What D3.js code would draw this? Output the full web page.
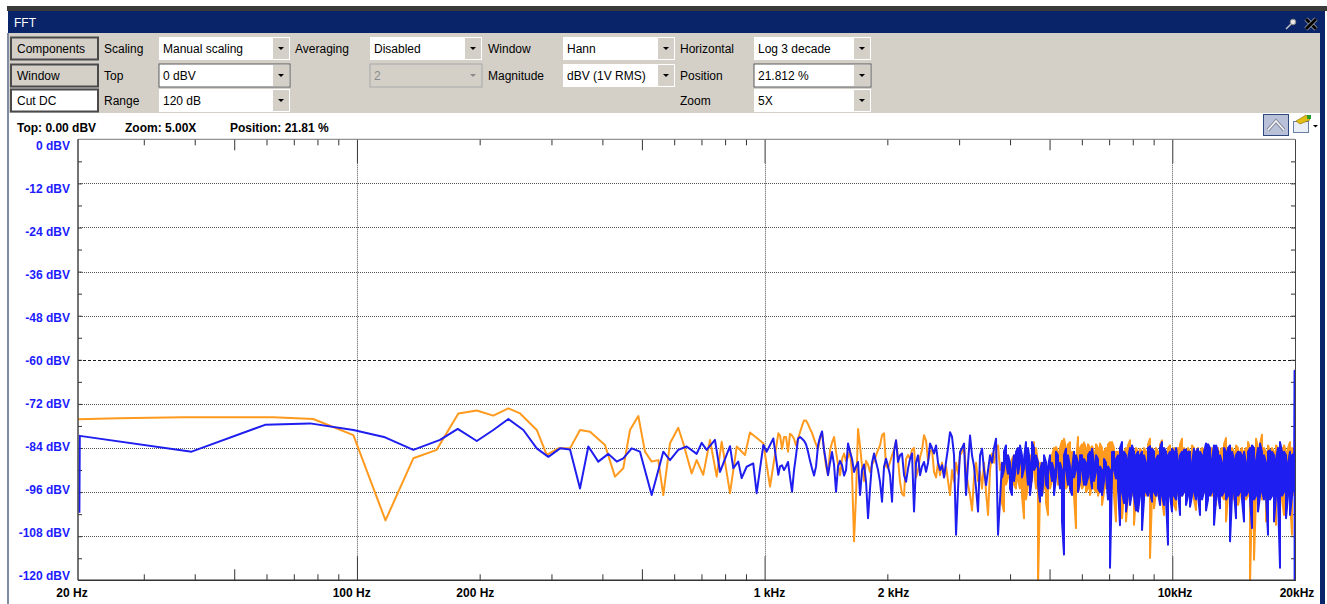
<!DOCTYPE html>
<html><head><meta charset="utf-8">
<script src="https://cdn.jsdelivr.net/npm/d3@7"></script>
<style>
body{margin:0;background:#fff;overflow:hidden;}
svg{display:block;font-family:"Liberation Sans",Arial,sans-serif;}
</style></head>
<body><svg id="c" width="1327" height="604"></svg>
<script>
// ---------------- DATA ----------------
const dbTicks = [0,-12,-24,-36,-48,-60,-72,-84,-96,-108,-120];
const dbTickLabels = ["0 dBV","-12 dBV","-24 dBV","-36 dBV","-48 dBV","-60 dBV","-72 dBV","-84 dBV","-96 dBV","-108 dBV","-120 dBV"];
const freqLabelHz = [20,100,200,1000,2000,10000,20000];
const freqLabels = ["20 Hz","100 Hz","200 Hz","1 kHz","2 kHz","10kHz","20kHz"];

// resolved low-frequency FFT points (Hz, dBV)
const orangeLowHz = [20,26.0,37.5,62.3,78.1,98.0,117.5,137.5,156.9,177.3,196.8,216,235.2,251.3,276.1,292.1,311.9,333.2,352.5,373.1,405.9,429.5,450.1,467.5,490,508.8,528.4,548.6,564.2,586,614,631.6,662.3,681.3,707,734.5,762.8,784.8,822.4,854.2,895,920.5,992.7,1031,1080.5];
const orangeLowDb = [-76.2,-75.9,-75.6,-75.6,-76.1,-80.5,-103.7,-86.8,-84.5,-74.6,-73.8,-75.2,-73.2,-74.6,-79.1,-85.9,-84.1,-84.1,-79.1,-79.6,-83.2,-91.8,-89.5,-79.1,-75.3,-85.0,-87.7,-87.3,-96.8,-82.7,-78.5,-82.7,-90.9,-87.3,-91.3,-81.8,-91.8,-82.3,-96.3,-83.6,-85.9,-79.8,-82.7,-94.5,-80.0];
const blueLowHz = [20.85,20.9,39.3,59.5,76.7,98.0,117.2,137.5,159.9,176.7,196.8,216,235.2,256,276.1,294.8,314.9,333.2,352.5,369.5,390.8,413.6,433.7,450.1,472,494.6,528.4,564.2,586,614,643.9,681.3,700.8,720.9,755.4,777.3,822.4,837.9,861.9,878.4,903.6,937.9,956,992.7,1011.9,1050.4,1080.5];
const blueLowDb = [-101.6,-80.7,-85.0,-77.7,-77.3,-79.1,-81.1,-84.5,-81.8,-78.8,-82.1,-79.1,-76.1,-79.1,-84.1,-86.4,-84.1,-84.4,-95.0,-83.6,-87.7,-85.6,-87.7,-86.8,-84.1,-85.0,-96.8,-85.0,-87.3,-84.5,-83.6,-85.6,-82.6,-84.5,-81.8,-90.5,-83.5,-89.5,-87.7,-92.2,-89.1,-88.2,-96.3,-83.2,-85.0,-81.4,-91.3];

// 1.09 kHz - 3.78 kHz: one reading per 2 screen px (log grid)
const midStartHz = 1091, midEndHz = 3780;
const orangeMidDb = [
-80.6,-84.2,-81,-81,-85,-80.1,-80.6,-81.5,-83.3,-81.5,
-79.7,-78,-76.5,-76.5,-77.5,-78.8,-79.9,-81.5,-83,-84.2,
-81.5,-79.7,-84.5,-89,-91.4,-84.6,-82.5,-81,-85,-88.5,
-91.4,-87,-85.5,-87.5,-86.5,-84.6,-91,-109.4,-96.8,-78.8,
-83.5,-89,-93,-87.5,-88.5,-90.5,-88.5,-87.5,-86,-84.5,
-83.3,-80.5,-80,-89,-89.5,-87.8,-86,-84.5,-82,-87,
-93.2,-96.5,-97,-87,-85.9,-86.9,-84.5,-84,-92,-90,
-86.5,-84.5,-80.5,-82,-87.5,-85,-84.5,-90.5,-92,-88,
-91.4,-88,-92,-89,-93,-96.8,-90,-93.2,-88,-91,
-86,-85.1,-83.3,-90,-94,-96.8,-101,-92,-88,-93,
-90.5,-95,-88,-96,-102.2,-90,-85.5,-88,-84.5,-83.3,
-90];
const blueMidDb = [
-89,-88.7,-90,-89,-87.8,-92,-95.9,-90,-86,-81.5,
-81,-81.5,-82,-83,-85,-87.5,-89.6,-91.5,-89,-83.3,
-81,-79.5,-84.5,-87.8,-91.4,-88,-85.1,-88.5,-95.9,-89,
-87.5,-88.7,-91.5,-90,-82.8,-85,-87,-90.5,-89,-87.8,
-96.8,-90,-88.5,-93.2,-103.1,-95,-88,-85.5,-87.8,-90,
-93.2,-98.6,-89.1,-86.9,-89,-91.4,-98.6,-85,-81.9,-87.8,
-86,-85.5,-91.4,-93.2,-89.6,-87,-85.5,-101.3,-88,-86,
-91.4,-89,-87.8,-90.5,-88,-82.8,-84,-85.5,-83.3,-88,
-90,-88.7,-92,-87.8,-84,-79.7,-81,-86,-107.6,-95,
-85.1,-84,-82.8,-96.8,-88,-80.6,-86,-89,-95,-101.3,
-86,-84.2,-90,-94.1,-90,-86,-88,-84,-81.5,-107.6,
-98];

// 3.82 kHz - 19.9 kHz: per 2-px column, the top and bottom of the trace
const hiStartHz = 3822, hiEndHz = 19890;
const blueHi = [
-88,-85,-83.3,-86,-88,-90,-86,-85.1,-84,-83.3,
-86,-87,-82.4,-84,-88,-82.4,-84,-86,-87.8,-90,
-88,-86,-87.8,-89,-86,-88,-90,-85,-86,-88,
-90,-86,-84.2,-86,-89,-90,-85,-86,-88,-86,
-86,-87,-88,-86,-85,-84.2,-88,-86,-87,-89,
-90,-87,-88,-89,-90,-85.1,-85,-87,-86,-84,
-82.4,-85,-86,-87,-84,-83.3,-85,-86,-85,-86,
-85,-86,-88,-84,-83.5,-84.2,-85,-87,-86,-84,
-82.4,-84,-85,-86,-85,-84.2,-85,-84,-87.5,-86,
-85,-84.5,-84.5,-85,-85,-88,-84.2,-85,-84.2,-85,
-86,-85,-82.8,-83,-84,-87,-83.3,-83.3,-85,-86,
-88,-84,-85,-84,-83.3,-85,-87,-86,-85,-85.1,
-86,-85,-88,-85,-84,-83.3,-84,-87.5,-84,-82.8,
-85,-86,-88,-85,-84.6,-85,-86,-87,-84,-82.4,
-85,-85,-86,-88,-85,-86,-85.5];
const blueLo = [
-92,-90,-88,-91,-95,-96.8,-93,-89,-91,-88,
-92,-89.6,-88,-94,-96.8,-92,-90,-89,-94,-98.6,
-97,-91,-94,-95,-89.6,-93,-96.8,-92,-89,-95,
-104,-113,-90,-94,-95,-96.8,-92,-90,-96,-93,
-90,-94,-94.1,-92,-91,-95,-93,-90.5,-95,-96,
-96.8,-93,-91.4,-98,-116.6,-92,-90,-92.3,-95,-105,
-96,-99,-101.3,-97,-99.5,-96,-97,-101,-101.3,-97,
-106.3,-98,-96,-97,-96,-98.6,-96,-97,-96,-99.5,
-97,-99.5,-98,-110.3,-97,-101.3,-97,-98,-96,-102.2,
-97,-96,-99.5,-97,-100,-97,-96,-98,-97,-102.2,
-98,-96,-101,-98,-97,-96,-104.9,-98,-97,-100.4,
-97,-96,-98,-97,-109.4,-97,-96,-103.1,-97,-96,
-98,-104,-97,-96,-98,-105.8,-98,-97,-101.3,-97,
-96,-98,-97,-107.6,-98,-97,-104,-97,-98,-116.6,
-97,-96,-103.1,-97,-102.2,-97,-96];
const orangeHi = [
-88,-90,-87,-86,-88,-87,-86,-88,-87,-86,
-88,-90,-88,-86,-86,-84,-82.4,-84,-88,-88,
-89,-88,-90,-92,-88,-86,-84,-83.7,-85,-84,
-82,-81.5,-84,-83,-82.4,-85,-86,-88,-81,-84,
-83,-82.5,-84,-83,-84,-83.5,-85,-83,-84,-82.8,
-84,-85,-84,-83,-82.4,-82.4,-84,-85,-85,-84,
-86,-85,-84,-83.3,-81.9,-84,-85,-84,-85,-84.2,
-85,-84,-85,-83,-81.5,-84,-85,-84,-85,-83,
-81.9,-84,-85,-84,-83.3,-85,-84,-85,-84,-83,
-81.5,-84,-85,-84,-85,-83.3,-84,-85,-84,-85,
-84,-84.2,-85,-84,-85,-84,-85,-85.1,-84,-85,
-84,-83,-81.3,-84,-85,-84,-85,-83.3,-84,-85,
-84,-85,-84,-82.4,-84,-85,-84,-81.5,-84,-83,
-80.4,-84,-85,-83.3,-85,-84,-85,-83.3,-84,-85,
-84,-83.3,-85,-84,-82.4,-84,-85];
const orangeLo = [
-99,-101.3,-94,-92,-93,-91.4,-94,-95,-93,-95,
-97,-103.1,-98,-94,-92,-93,-90,-95,-122,-96,
-96.8,-95,-99,-102.2,-95,-93,-92,-91,-94,-93,
-95,-94,-95,-94,-96,-95,-97,-105.8,-96,-94,
-95,-94,-96,-95,-96.8,-94,-95,-96,-97,-95,
-99.5,-96,-95,-94,-96,-95,-97,-104,-96,-97,
-103.1,-96.8,-104,-97,-96,-97,-104.9,-97,-96,-97,
-96,-98,-97,-96,-113.9,-97,-100.4,-96,-97,-96,
-98,-102.2,-97,-96,-97,-98,-99.5,-100.9,-97,-96,
-97,-96,-98,-96.8,-97,-96,-98,-100.9,-97,-96,
-97,-96,-98.6,-97,-96,-97,-98,-99.5,-97,-96,
-97,-98,-104,-97,-96,-97,-98,-97,-99.5,-97,
-96,-97,-98,-97,-121,-97,-114.4,-97,-96,-97,
-98,-97,-104,-97,-96,-97,-98,-104.9,-97,-96,
-98,-102.2,-97,-96,-98,-107.6,-97];
const blueTailHz = [19950,19960];
const blueTailDb = [-63,-125];

// toolbar texts
const rowLabels = [["Scaling","Top","Range"],["Averaging"],["Window","Magnitude"],["Horizontal","Position","Zoom"]];

// ---------------- DRAW ----------------
const W=1327,H=604;
const svg=d3.select("#c");
svg.append("rect").attr("width",W).attr("height",H).attr("fill","#fff");

// window chrome
svg.append("rect").attr("x",7).attr("y",6).attr("width",W-7).attr("height",5).attr("fill","#3a3a3a");
svg.append("rect").attr("x",8).attr("y",11).attr("width",1317).attr("height",22).attr("fill","#0a246a");
svg.append("text").attr("x",14).attr("y",27).attr("fill","#fff").attr("font-size",12).text("FFT");
svg.append("line").attr("x1",1286).attr("y1",29).attr("x2",1291).attr("y2",24).attr("stroke","#c8c8c8").attr("stroke-width",1.5);
svg.append("circle").attr("cx",1293).attr("cy",22).attr("r",2.8).attr("fill","#e8e8e8").attr("stroke","#888");
[[1306,19,1316,29],[1316,19,1306,29]].forEach(l=>{
  svg.append("line").attr("x1",l[0]).attr("y1",l[1]).attr("x2",l[2]).attr("y2",l[3]).attr("stroke","#b8b8b8").attr("stroke-width",4.2);
  svg.append("line").attr("x1",l[0]).attr("y1",l[1]).attr("x2",l[2]).attr("y2",l[3]).attr("stroke","#000").attr("stroke-width",3);
});
svg.append("rect").attr("x",9).attr("y",33).attr("width",1311).attr("height",80).attr("fill","#d4d0c8");
svg.append("rect").attr("x",7).attr("y",33).attr("width",2).attr("height",H-33).attr("fill","#7f8aa3");
svg.append("rect").attr("x",1320).attr("y",11).attr("width",5).attr("height",H-11).attr("fill","#0a246a");

const rowY=[37,64,89], rowH=23;
function button(y,label,fill){
  svg.append("rect").attr("x",11).attr("y",y+0.5).attr("width",87).attr("height",rowH-1).attr("fill",fill).attr("stroke","#4a4a4a").attr("stroke-width",2);
  svg.append("text").attr("x",17).attr("y",y+16).attr("font-size",12).attr("fill","#000").text(label);
}
button(rowY[0],"Components","#d4d0c8");
button(rowY[1],"Window","#d4d0c8");
button(rowY[2],"Cut DC","#fff");

function dropdown(x,y,w,text,style){
  const g=svg.append("g");
  const dis = style==="disabled";
  g.append("rect").attr("x",x).attr("y",y).attr("width",w).attr("height",rowH)
    .attr("fill",dis?"#d4d0c8":"#fff")
    .attr("stroke",style==="sunk"?"#5a5a5a":(dis?"#a8a8a8":"none")).attr("stroke-width",1);
  g.append("rect").attr("x",x+w-17).attr("y",y+1).attr("width",16).attr("height",rowH-2).attr("fill","#d4d0c8");
  const cx=x+w-9, cy=y+rowH/2;
  g.append("path").attr("d",`M${cx-3},${cy-1.5}L${cx+3},${cy-1.5}L${cx},${cy+1.5}Z`).attr("fill",dis?"#8a8a8a":"#000");
  g.append("text").attr("x",x+4).attr("y",y+16).attr("font-size",12).attr("fill",dis?"#8a8a8a":"#000").text(text);
}
const labelX=[104,295,488,680];
rowLabels.forEach((col,ci)=>col.forEach((t,ri)=>{
  svg.append("text").attr("x",labelX[ci]).attr("y",rowY[ri]+16).attr("font-size",12).attr("fill","#000").text(t);
}));
dropdown(159,rowY[0],131,"Manual scaling","flat");
dropdown(159,rowY[1],131,"0 dBV","sunk");
dropdown(159,rowY[2],131,"120 dB","flat");
dropdown(370,rowY[0],112,"Disabled","flat");
dropdown(370,rowY[1],112,"2","disabled");
dropdown(563,rowY[0],112,"Hann","flat");
dropdown(563,rowY[1],112,"dBV (1V RMS)","flat");
dropdown(754,rowY[0],117,"Log 3 decade","flat");
dropdown(754,rowY[1],117,"21.812 %","sunk");
dropdown(754,rowY[2],117,"5X","flat");

[["Top: 0.00 dBV",17],["Zoom: 5.00X",125],["Position: 21.81 %",230]].forEach(d=>{
  svg.append("text").attr("x",d[1]).attr("y",132).attr("font-size",12).attr("font-weight","bold").text(d[0]);
});
svg.append("rect").attr("x",1263.5).attr("y",114.5).attr("width",25).attr("height",21).attr("fill","#b9c1d9").attr("stroke","#2f4a7f");
svg.append("polyline").attr("points","1268,130 1276,121 1284,130").attr("fill","none").attr("stroke","#7d8597").attr("stroke-width",3.4);
svg.append("polyline").attr("points","1268,130 1276,121 1284,130").attr("fill","none").attr("stroke","#f6f6f6").attr("stroke-width",1.6);
svg.append("rect").attr("x",1293.5).attr("y",121.5).attr("width",15).attr("height",11).attr("fill","#e9eef7").attr("stroke","#6a7fa8");
svg.append("path").attr("d","M1296,121L1306,115L1310,120L1300,124Z").attr("fill","#e2bd12").attr("stroke","#8a6d00").attr("stroke-width",0.6);
svg.append("rect").attr("x",1307).attr("y",115).attr("width",4).attr("height",4).attr("fill","#2a9c2a");
svg.append("path").attr("d","M1313,125L1318,125L1315.5,127.5Z").attr("fill","#000");

// ---------------- PLOT ----------------
const L=78, R=1295, T=139.3, B=580.3;
const x=d3.scaleLog().domain([20,20000]).range([72,1295]);
const y=d3.scaleLinear().domain([0,-120]).range([T,B]);
const yLab=d3.scaleLinear().domain([0,-120]).range([145.7,575]);
const xLabCenters=[72,351.7,475.3,769.5,893.5,1175,1297];

dbTicks.filter(v=>v<0&&v>-120).forEach(v=>{
  svg.append("line").attr("x1",L).attr("x2",R).attr("y1",Math.round(y(v))+0.5).attr("y2",Math.round(y(v))+0.5)
    .attr("stroke",v===-60?"#1a1a1a":"#555").attr("stroke-dasharray",v===-60?"3,2":"1,1");
});
const decades=[100,1000,10000];
decades.forEach(f=>{
  svg.append("line").attr("x1",Math.round(x(f))+0.5).attr("x2",Math.round(x(f))+0.5).attr("y1",T+24).attr("y2",B-24)
    .attr("stroke","#555").attr("stroke-dasharray","1,1");
});

const minorHz=[], midHz=[];
[10,100,1000,10000].forEach(d=>{for(let m=2;m<=9;m++){const f=d*m; if(f>20&&f<20000){(m===5?midHz:minorHz).push(f);}}});
function freqAxis(vals,len){
  svg.append("g").attr("transform",`translate(0,${B})`).call(d3.axisBottom(x).tickValues(vals).tickSize(-len).tickFormat(""))
    .call(g=>{g.select(".domain").remove();g.selectAll("line").attr("stroke","#333");});
  svg.append("g").attr("transform",`translate(0,${T})`).call(d3.axisTop(x).tickValues(vals).tickSize(-len).tickFormat(""))
    .call(g=>{g.select(".domain").remove();g.selectAll("line").attr("stroke","#333");});
}
freqAxis(minorHz,6); freqAxis(midHz,11); freqAxis(decades,24);
const sixDb=d3.range(-6,-120,-6);
svg.append("g").attr("transform",`translate(${L},0)`).call(d3.axisLeft(y).tickValues(sixDb).tickSize(-4).tickFormat(""))
  .call(g=>{g.select(".domain").remove();g.selectAll("line").attr("stroke","#333");});
svg.append("g").attr("transform",`translate(${R},0)`).call(d3.axisRight(y).tickValues(sixDb).tickSize(-4).tickFormat(""))
  .call(g=>{g.select(".domain").remove();g.selectAll("line").attr("stroke","#333");});

// series
svg.append("clipPath").attr("id","pc").append("rect").attr("x",L).attr("y",T).attr("width",R-L+1).attr("height",B-T);
function logGrid(a,b,n){return d3.range(n).map(i=>a*Math.pow(b/a,i/(n-1)));}
const midHzGrid=logGrid(midStartHz,midEndHz,blueMidDb.length);
const hiHzGrid=logGrid(hiStartHz,hiEndHz,blueHi.length);
function envelope(hi,lo){
  const pts=[];
  hiHzGrid.forEach((f,k)=>{ if(k%2===0){pts.push([f,hi[k]],[f,lo[k]]);} else {pts.push([f,lo[k]],[f,hi[k]]);} });
  return pts;
}
const orangePts=orangeLowHz.map((f,i)=>[f,orangeLowDb[i]])
  .concat(midHzGrid.map((f,i)=>[f,orangeMidDb[i]]))
  .concat(envelope(orangeHi,orangeLo));
const bluePts=blueLowHz.map((f,i)=>[f,blueLowDb[i]])
  .concat(midHzGrid.map((f,i)=>[f,blueMidDb[i]]))
  .concat(envelope(blueHi,blueLo))
  .concat(blueTailHz.map((f,i)=>[f,blueTailDb[i]]));
const line=d3.line().x(d=>x(d[0])).y(d=>y(d[1]));
const pg=svg.append("g").attr("clip-path","url(#pc)");
pg.append("path").attr("d",line(orangePts)).attr("fill","none").attr("stroke","#ff9a1e").attr("stroke-width",2).attr("stroke-linejoin","round");
pg.append("path").attr("d",line(bluePts)).attr("fill","none").attr("stroke","#1e1ef0").attr("stroke-width",2).attr("stroke-linejoin","round");

// frame
svg.append("line").attr("x1",L).attr("x2",R).attr("y1",T).attr("y2",T).attr("stroke","#777");
svg.append("line").attr("x1",L).attr("x2",R+1).attr("y1",B).attr("y2",B).attr("stroke","#333").attr("stroke-width",1.5);
svg.append("line").attr("x1",L).attr("x2",L).attr("y1",T).attr("y2",B).attr("stroke","#444").attr("stroke-width",1.5);
svg.append("line").attr("x1",R+0.5).attr("x2",R+0.5).attr("y1",T).attr("y2",B).attr("stroke","#444");

dbTicks.forEach((v,i)=>{
  svg.append("text").attr("x",70).attr("y",yLab(v)+4.5).attr("text-anchor","end").attr("font-size",12)
    .attr("font-weight","bold").attr("fill","#1c1cff").text(dbTickLabels[i]);
});
freqLabelHz.forEach((f,i)=>{
  svg.append("text").attr("x",xLabCenters[i]).attr("y",597).attr("text-anchor","middle").attr("font-size",12)
    .attr("font-weight","bold").attr("fill","#000").text(freqLabels[i]);
});
</script></body></html>
